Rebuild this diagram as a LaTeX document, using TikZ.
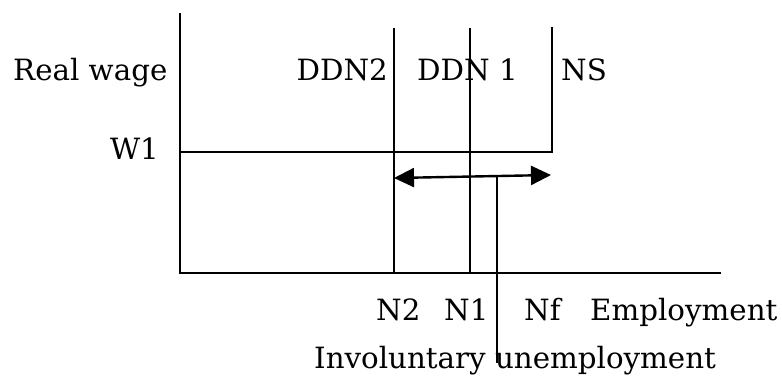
\documentclass[tikz,border=0pt]{standalone}
\usepackage{fontspec}
\setmainfont{DejaVu Serif}
\usetikzlibrary{arrows.meta}
\begin{document}
\begin{tikzpicture}[x=1pt,y=-1pt,line width=2.4pt,
  lbl/.style={anchor=base west,inner sep=0pt,font=\fontsize{29.3}{33}\selectfont},
  lblr/.style={lbl,anchor=base east},
  axis/.style={line width=2.4pt},
  curve/.style={line width=2.4pt},
  gap/.style={line width=2.4pt,{Triangle[length=20pt,width=19pt]}-{Triangle[length=20pt,width=19pt]}}]
\useasboundingbox (0,0) rectangle (782,376);

% axes
\coordinate (ytop) at (180,13);
\coordinate (origin) at (180,273);
\coordinate (xend) at (721,273);
\draw[axis] (ytop) -- (origin) -- (xend);

% demand and supply curves
\coordinate (d2top) at (394,28);
\coordinate (d2bot) at (394,273);
\coordinate (d1top) at (470,28);
\coordinate (d1bot) at (470,273);
\coordinate (w1) at (180,152);
\coordinate (nscorner) at (552,152);
\coordinate (nstop) at (552,27);
\draw[curve] (d2top) -- (d2bot);
\draw[curve] (d1top) -- (d1bot);
\draw[curve] (w1) -- (nscorner) -- (nstop);

% unemployment gap
\coordinate (gapl) at (394,178);
\coordinate (gapr) at (551,175);
\draw[gap] (gapl) -- (gapr);
\coordinate (ptop) at (497,176.5);
\coordinate (pbot) at (497,363);
\draw[curve] (ptop) -- (pbot);

% labels
\node[lbl] (rw) at (12,80) {Real wage};
\node[lblr] (ddn2) at (389,80) {DDN2};
\node[lbl] (ddn1) at (416,80) {DDN 1};
\node[lbl] (ns) at (560,80) {NS};
\node[lblr] (w1l) at (160,159) {W1};
\node[lbl] (n2) at (375,320) {N2};
\node[lbl] (n1) at (443,320) {N1};
\node[lbl] (nf) at (523,320) {Nf};
\node[lbl] (emp) at (589,320) {Employment};
\node[lbl] (inv) at (313,368) {Involuntary unemployment};
\end{tikzpicture}
\end{document}
